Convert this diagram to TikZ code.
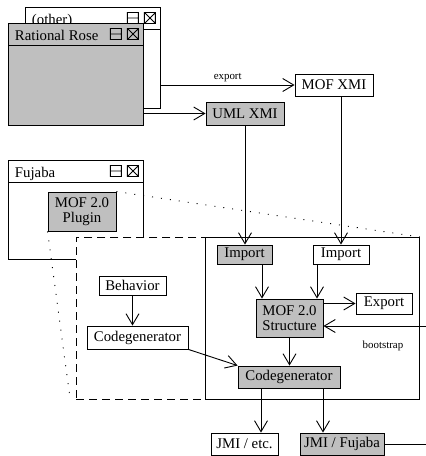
\documentclass[tikz,border=0pt]{standalone}
\usepackage{fontspec}
\setmainfont{Liberation Serif}
\usetikzlibrary{arrows.meta}
\definecolor{boxgray}{gray}{0.75}
\tikzset{
	box/.style={draw,inner sep=0pt,minimum height=22pt,align=center,font=\fontsize{14.8}{15.5}\selectfont},
	graybox/.style={box,fill=boxgray},
	window/.style={draw,inner sep=0pt,anchor=north west,minimum width=135pt},
	wintitle/.style={anchor=base west,inner sep=0pt,font=\fontsize{14.8}{15.5}\selectfont},
	small/.style={inner sep=0pt,font=\fontsize{10.9}{12}\selectfont},
	flow/.style={-{Straight Barb[length=11pt,width=13pt]}},
	region/.style={draw,inner sep=0pt,anchor=north west,minimum height=162pt},
	zoomline/.style={dash pattern=on 1pt off 8pt}
}
\begin{document}
\begin{tikzpicture}[x=1pt,y=-1pt,line width=0.9pt]
	\useasboundingbox (0,0) rectangle (426,456);
	\foreach \w/\wx/\wy/\wh/\wc/\wt in {other/25/7/101/white/{(other)},rose/8/23/102/boxgray/{Rational Rose},fujaba/8/160/99/white/{Fujaba}} {
		\node [window,fill=\wc,minimum height=\wh pt] (\w) at (\wx,\wy) {};
		\node [wintitle] (title-\w) at ([shift={(6.5,17)}]\w.north west) {\wt};
		\draw [shift={(\w.north east)}] (0,22.5) -- (-135,22.5) (-16.5,5.5) rectangle (-5.5,16.5) (-16.5,5.5) -- (-5.5,16.5) (-5.5,5.5) -- (-16.5,16.5) (-33.5,5.5) rectangle (-22.5,16.5) (-33.5,11) -- (-22.5,11);
	}
	\node [graybox,minimum width=68pt,minimum height=39pt] (plugin) at (82,211.5) {MOF 2.0\\Plugin};
	\node [region,dash pattern=on 8pt off 5pt,fill=white,minimum width=343pt] (gen) at (76,237) {};
	\node [region,minimum width=214pt] (core) at (205,237) {};
	\draw [zoomline] (plugin.north east) -- (core.north east);
	\draw [zoomline] (plugin.south west) -- ([xshift=-6pt,yshift=2pt]gen.south west);
	\node [box,minimum width=78pt] (mofxmi) at (334,85) {MOF XMI};
	\node [graybox,minimum width=78pt,minimum height=23pt] (umlxmi) at (245,113.5) {UML XMI};
	\node [graybox,minimum width=55pt,minimum height=19pt] (import1) at (244.5,254.5) {Import};
	\node [box,minimum width=56pt,minimum height=19pt] (import2) at (341,254.5) {Import};
	\node [graybox,minimum width=67pt,minimum height=38pt] (structure) at (289.5,318) {MOF 2.0\\Structure};
	\node [box,minimum width=56pt,minimum height=21pt] (export) at (384,303.5) {Export};
	\node [box,minimum width=67pt,minimum height=19pt] (behavior) at (132.5,285.5) {Behavior};
	\node [box,minimum width=101pt,minimum height=23pt] (codegen1) at (137.5,337.5) {Codegenerator};
	\node [graybox,minimum width=102pt] (codegen2) at (289,377) {Codegenerator};
	\node [box,minimum width=67pt] (jmietc) at (244.5,444) {JMI / etc.};
	\node [graybox,minimum width=84pt] (jmifujaba) at (342,444) {JMI / Fujaba};
	\coordinate (imp1out) at ([xshift=17.5pt]import1.south);
	\coordinate (imp2out) at ([xshift=-24pt]import2.south);
	\coordinate (cg2out1) at ([xshift=-28pt]codegen2.south);
	\coordinate (cg2out2) at ([xshift=34pt]codegen2.south);
	\coordinate (bootin) at (426,326);
	\coordinate (fujabaout) at (426,443);
	\draw [flow] (other.east |- mofxmi.west) -- node [small,above=3pt] (exportlabel) {export} (mofxmi.west);
	\draw [flow] (rose.east |- umlxmi.west) -- (umlxmi.west);
	\draw [flow] (umlxmi.south) -- (umlxmi.south |- import1.north);
	\draw [flow] (import2.north |- mofxmi.south) -- (import2.north);
	\draw [flow] (imp1out) -- (imp1out |- structure.north);
	\draw [flow] (imp2out) -- (imp2out |- structure.north);
	\draw [flow] (structure.east |- export.west) -- (export.west);
	\draw [flow] (bootin) -- (bootin -| structure.east);
	\node [small] (bootlabel) at (383,346) {bootstrap};
	\draw [flow] (structure.south) -- (structure.south |- codegen2.north);
	\draw [flow] (behavior.south) -- (behavior.south |- codegen1.north);
	\draw [flow] (codegen1.south east) -- (codegen2.north west);
	\draw [flow] (cg2out1) -- (cg2out1 |- jmietc.north);
	\draw [flow] (cg2out2) -- (cg2out2 |- jmifujaba.north);
	\draw (jmifujaba.east) -- (jmifujaba.east -| fujabaout);
\end{tikzpicture}
\end{document}
